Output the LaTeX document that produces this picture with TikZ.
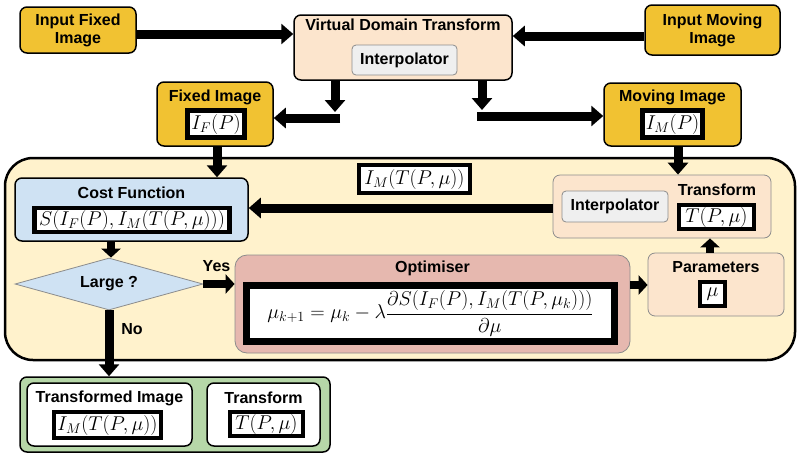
\RequirePackage{fix-cm}
\documentclass[tikz,border=0pt]{standalone}
\usepackage{fontspec}
\newfontfamily\sansb{Liberation Sans}
\usetikzlibrary{arrows.meta,shapes.geometric}
\definecolor{gold}{RGB}{241,194,50}
\definecolor{peach}{RGB}{252,229,205}
\definecolor{lyellow}{RGB}{255,242,204}
\definecolor{lblue}{RGB}{207,226,243}
\definecolor{pink}{RGB}{230,184,175}
\definecolor{lgreen}{RGB}{182,215,168}
\definecolor{lgray}{RGB}{239,239,239}
\begin{document}
\begin{tikzpicture}[x=1pt,y=-1pt,
  box/.style={draw=black, line width=1.5pt, rounded corners=7pt, inner sep=0pt},
  softbox/.style={draw=black!45, line width=0.8pt, rounded corners=7pt, inner sep=0pt},
  mbox/.style={draw=black, line width=4.5pt, fill=white, inner sep=0pt, font=\fontsize{20}{24}\selectfont},
  ttl/.style={font=\sansb\bfseries\fontsize{16}{18}\selectfont, inner sep=0pt, align=center},
  arr/.style={line width=9pt, -{Triangle[length=12pt,width=20pt]}},
  sarr/.style={line width=8pt, -{Triangle[length=9pt,width=19pt]}}]
\useasboundingbox (0,0) rectangle (800,456);
% top row
\node[box, fill=gold, minimum width=116, minimum height=46] (ifi) at (78,30) {};
\node[ttl] (ifit) at (ifi.center) {Input Fixed\\Image};
\node[box, fill=peach, minimum width=218, minimum height=65] (vdt) at (403,47.5) {};
\node[ttl] (vdtt) at (403,25) {Virtual Domain Transform};
\node[softbox, fill=lgray, minimum width=105, minimum height=30, rounded corners=4pt] (ip1) at (404.5,60) {};
\node[ttl] (ip1t) at (ip1.center) {Interpolator};
\node[box, fill=gold, minimum width=135, minimum height=50] (imi) at (712.5,30) {};
\node[ttl] (imit) at (imi.center) {Input Moving\\Image};
% second row
\node[box, fill=gold, minimum width=116, minimum height=64] (fix) at (215,114) {};
\node[ttl] (fixt) at (215,97) {Fixed Image};
\node[mbox, minimum width=57, minimum height=27] (fixm) at (216,124) {$I_F(P)$};
\node[box, fill=gold, minimum width=137, minimum height=63] (mov) at (672.5,114.5) {};
\node[ttl] (movt) at (672.5,97) {Moving Image};
\node[mbox, minimum width=60, minimum height=27] (movm) at (672.5,124) {$I_M(P)$};
% main container
\node[draw=black, line width=2.5pt, rounded corners=28pt, fill=lyellow, minimum width=790, minimum height=202, inner sep=0pt] (main) at (400,259) {};
% cost function
\node[box, fill=lblue, minimum width=233, minimum height=63] (cost) at (131.5,209.5) {};
\node[ttl] (costt) at (131.5,193) {Cost Function};
\node[mbox, minimum width=195, minimum height=24] (costm) at (132,220) {$S(I_F(P),I_M(T(P,\mu)))$};
% label
\node[mbox, minimum width=111, minimum height=28] (lbl) at (414.5,179) {$I_M(T(P,\mu))$};
% transform box
\node[softbox, fill=peach, minimum width=218, minimum height=63] (tbox) at (662,206.5) {};
\node[softbox, fill=lgray, minimum width=106, minimum height=31, rounded corners=4pt] (ip2) at (615,206.5) {};
\node[ttl] (ip2t) at (ip2.center) {Interpolator};
\node[ttl] (tbt) at (717,190) {Transform};
\node[mbox, minimum width=75, minimum height=24] (tm) at (716.5,217) {$T(P,\mu)$};
% parameters
\node[softbox, fill=peach, minimum width=136, minimum height=63] (par) at (716,284.5) {};
\node[ttl] (part) at (716,267) {Parameters};
\node[mbox, minimum width=25, minimum height=24] (pm) at (712.5,294) {$\mu$};
% optimiser
\node[softbox, fill=pink, minimum width=395, minimum height=98, rounded corners=12pt] (opt) at (432.5,304) {};
\node[ttl] (optt) at (432.5,268) {Optimiser};
\node[mbox, line width=7pt, minimum width=368, minimum height=56] (optm) at (430.5,313.5)
  {$\displaystyle \mu_{k+1}=\mu_k-\lambda\frac{\partial S(I_F(P),I_M(T(P,\mu_k)))}{\partial\mu}$};
% decision
\node[diamond, draw=black!45, line width=0.8pt, fill=lblue, aspect=3.6, inner sep=0pt, minimum width=188, minimum height=52] (dia) at (109,284) {};
\node[ttl] (diat) at (dia.center) {Large ?};
% result
\node[box, fill=lgreen, minimum width=310, minimum height=75] (green) at (175,414.5) {};
\node[box, fill=white, minimum width=165, minimum height=63] (timg) at (109.5,414.5) {};
\node[ttl] (timgt) at (109.5,398) {Transformed Image};
\node[mbox, minimum width=107, minimum height=26] (timgm) at (107.5,425) {$I_M(T(P,\mu))$};
\node[box, fill=white, minimum width=113, minimum height=63] (ttr) at (263.5,414.5) {};
\node[ttl] (ttrt) at (263.5,398) {Transform};
\node[mbox, minimum width=73, minimum height=24] (ttrm) at (266.5,424) {$T(P,\mu)$};
% labels
\node[ttl] (yes) at (216.5,266) {Yes};
\node[ttl] (no) at (132,329) {No};
% connectors
\coordinate (ya) at (0,34);
\coordinate (yb) at (0,36);
\draw[arr] (ifi.east |- ya) -- (vdt.west |- ya);
\draw[arr] (imi.west |- yb) -- (vdt.east |- yb);
\coordinate (a1) at (335,112);
\coordinate (a2) at (340,118);
\draw[arr] (vdt.south -| a1) -- (a1);
\draw[arr] (a2) -- (fix.east |- a2);
\coordinate (b1) at (482,110);
\coordinate (b2) at (477,116);
\draw[arr] (vdt.south -| b1) -- (b1);
\draw[arr] (b2) -- (mov.west |- b2);
\coordinate (xc) at (217,0);
\draw[arr] (fix.south -| xc) -- (cost.north -| xc);
\coordinate (xm) at (678,0);
\draw[arr] (mov.south -| xm) -- (tbox.north -| xm);
\coordinate (yc) at (0,208);
\draw[arr] (tbox.west |- yc) -- (cost.east |- yc);
\coordinate (xd) at (111,0);
\draw[sarr] (cost.south -| xd) -- (dia.north -| xd);
\draw[sarr] (dia.east) -- (opt.west |- dia.east);
\coordinate (yd) at (0,285);
\draw[sarr] (opt.east |- yd) -- (par.west |- yd);
\coordinate (xe) at (710,0);
\draw[sarr] (par.north -| xe) -- (tbox.south -| xe);
\draw[arr] (dia.south) -- (green.north -| dia.south);
\end{tikzpicture}
\end{document}
